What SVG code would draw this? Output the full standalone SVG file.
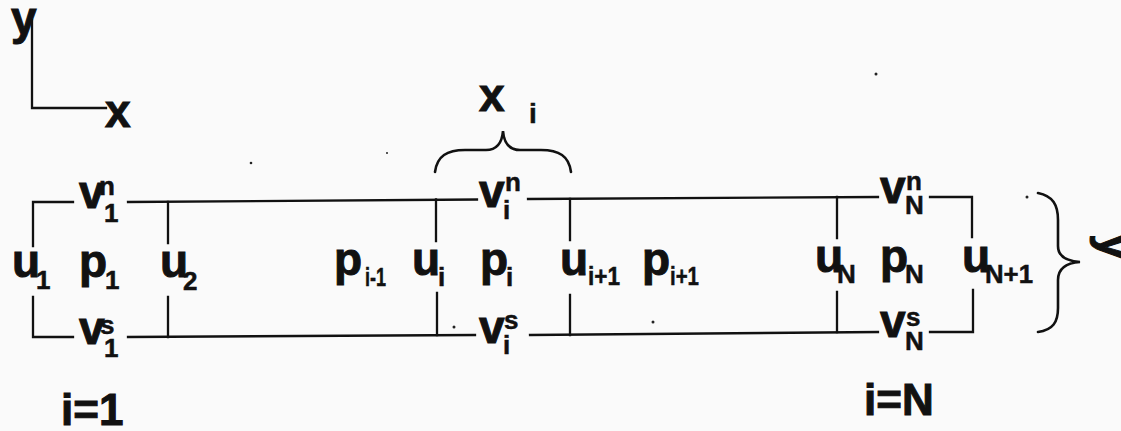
<svg xmlns="http://www.w3.org/2000/svg" width="1121" height="431" viewBox="0 0 1121 431">
<style>
text{font-family:"Liberation Sans",Arial,sans-serif;font-weight:bold;fill:#111}
.m{font-size:46px;stroke:#111;stroke-width:1}
.s{font-size:26px;stroke:#111;stroke-width:0.5}
.l{font-size:44px;stroke:#111;stroke-width:1}
.ln{stroke:#111;stroke-width:2.3;fill:none;stroke-linecap:square}
.br{stroke:#111;stroke-width:2.6;fill:none;stroke-linecap:round}
.dot{fill:#222}
</style>
<rect width="1121" height="431" fill="#fafafa"/>
<g id="axes">
<path class="ln" d="M32,20 L32,108 L106,108"/>
<text class="m" x="11" y="34">y</text>
<text class="m" x="105" y="127">x</text>
</g>
<g id="connectors">
<path class="ln" d="M73,202 L33,202 L33,246"/>
<path class="ln" d="M33,297 L33,337 L73,337"/>
<path class="ln" d="M128,202 L477,199.5"/>
<path class="ln" d="M528,199 L878,197"/>
<path class="ln" d="M930,197 L972,197 L972,237"/>
<path class="ln" d="M128,337 L475,335"/>
<path class="ln" d="M530,335 L878,332"/>
<path class="ln" d="M973,290 L973,332 L930,332"/>
<path class="ln" d="M168,202 L168,243 M168,297 L168,337"/>
<path class="ln" d="M436,199.5 L436,241 M437,293 L437,335"/>
<path class="ln" d="M570,199 L570,240 M570,295 L570,335"/>
<path class="ln" d="M837,197 L837,238 M837,292 L837,332"/>
<path class="br" d="M435,172 C437,156 447,150 465,150 L486,150 C497,150 502,143 503,131 C504,143 509,150 520,150 L541,150 C559,150 569,156 571,172"/>
<path class="br" d="M1038,193 C1053,196 1058,205 1058,220 L1058,246 C1058,256 1066,261 1080,262 C1066,263 1058,268 1058,280 L1058,308 C1058,322 1053,330 1038,332"/>
</g>
<g id="xi">
<text class="m" x="479" y="111">x</text>
<text style="font-size:28px;stroke:#111;stroke-width:0.5" x="529" y="123">i</text>
</g>
<g id="ylabel"><text class="m" transform="translate(1100,234) rotate(90)">y</text></g>
<g id="cell1">
<text class="m" x="79" y="208">v</text><text class="s" x="99" y="195">n</text><text class="s" x="104" y="222">1</text>
<text class="m" x="12" y="277">u</text><text class="s" x="36" y="289">1</text>
<text class="m" x="79" y="277">p</text><text class="s" x="105" y="289">1</text>
<text class="m" x="79" y="344">v</text><text class="s" x="100" y="334">s</text><text class="s" x="104" y="357">1</text>
<text class="l" x="61" y="425">i=1</text>
</g>
<g id="u2"><text class="m" x="160" y="277">u</text><text class="s" x="183" y="290">2</text></g>
<g id="pim1"><text class="m" x="334" y="275">p</text><text class="s" x="365" y="286" textLength="21" lengthAdjust="spacingAndGlyphs">i-1</text></g>
<g id="celli">
<text class="m" x="479" y="207">v</text><text class="s" x="505" y="191">n</text><text class="s" x="503" y="219">i</text>
<text class="m" x="412" y="275">u</text><text class="s" x="438" y="286">i</text>
<text class="m" x="480" y="275">p</text><text class="s" x="506" y="286">i</text>
<text class="m" x="479" y="343">v</text><text class="s" x="504" y="329">s</text><text class="s" x="503" y="354">i</text>
</g>
<g id="uip1"><text class="m" x="560" y="275">u</text><text class="s" x="588" y="285" textLength="32" lengthAdjust="spacingAndGlyphs">i+1</text></g>
<g id="pip1"><text class="m" x="642" y="275">p</text><text class="s" x="670" y="285" textLength="29" lengthAdjust="spacingAndGlyphs">i+1</text></g>
<g id="cellN">
<text class="m" x="880" y="203">v</text><text class="s" x="906" y="190">n</text><text class="s" x="905" y="214">N</text>
<text class="m" x="815" y="272">u</text><text class="s" x="837" y="283">N</text>
<text class="m" x="880" y="272">p</text><text class="s" x="905" y="283">N</text>
<text class="m" x="880" y="337">v</text><text class="s" x="906" y="326">s</text><text class="s" x="905" y="350">N</text>
<text class="l" x="864" y="415">i=N</text>
</g>
<g id="uN1"><text class="m" x="962" y="272">u</text><text class="s" x="985" y="283" textLength="48" lengthAdjust="spacingAndGlyphs">N+1</text></g>
<g id="specks">
<circle class="dot" cx="251" cy="163" r="1.3"/>
<circle class="dot" cx="876" cy="74" r="1.5"/>
<circle class="dot" cx="454" cy="327" r="1.5"/>
<circle class="dot" cx="653" cy="322" r="1.5"/>
<circle class="dot" cx="1027" cy="197" r="1.5"/>
<circle class="dot" cx="387" cy="153" r="1"/>
</g>
</svg>
